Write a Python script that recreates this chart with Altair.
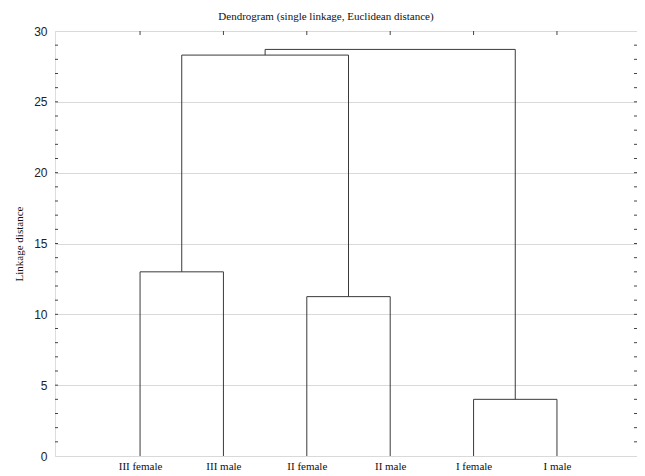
import altair as alt
import pandas as pd

# Data
leaves = ["III female", "III male", "II female", "II male", "I female", "I male"]
# merges: (child a, child b, linkage distance); ids 0-5 are leaves, 6+ are clusters
merge_a = [0, 2, 4, 6, 8]
merge_b = [1, 3, 5, 7, 9]
merge_h = [13.0, 11.25, 4.0, 28.3, 28.7]
y_ticks = [0, 5, 10, 15, 20, 25, 30]
minor_ticks = list(range(1, 30))

W, H = 582, 425

# build node positions
pos = {i: (i + 1.0, 0.0) for i in range(len(leaves))}
segs = []
for k, (a, b, h) in enumerate(zip(merge_a, merge_b, merge_h)):
    xa, ha = pos[a]
    xb, hb = pos[b]
    segs.append({"x": xa, "x2": xa, "y": ha, "y2": h})
    segs.append({"x": xb, "x2": xb, "y": hb, "y2": h})
    segs.append({"x": xa, "x2": xb, "y": h, "y2": h})
    pos[len(leaves) + k] = ((xa + xb) / 2, h)
seg_df = pd.DataFrame(segs)

label_arr = "[" + ",".join("'" + s + "'" for s in leaves) + "]"

xscale = alt.Scale(domain=[-0.02, 6.96], nice=False, zero=False)
yscale = alt.Scale(domain=[0, 30], nice=False)

base_x = alt.X(
    "x:Q", scale=xscale,
    axis=alt.Axis(
        values=[i + 1 for i in range(len(leaves))],
        labelExpr=label_arr + "[datum.value - 1]",
        title=None, grid=False, domain=False, ticks=False,
        labelFont="Liberation Serif", labelFontSize=11, labelColor="#111",
        labelPadding=4,
    ),
)
base_y = alt.Y(
    "y:Q", scale=yscale,
    axis=alt.Axis(
        values=y_ticks, title="Linkage distance", grid=True,
        gridColor="#d9d9d9", gridWidth=1, domain=False, ticks=False,
        labelFont="Liberation Sans", labelFontSize=12, labelColor="#222",
        labelPadding=8, titleFont="Liberation Serif", titleFontSize=11,
        titleFontWeight="normal", titleColor="#111", titlePadding=9,
    ),
)

dendro = alt.Chart(seg_df).mark_rule(color="#3a3a3a", strokeWidth=1).encode(
    x=base_x, x2="x2:Q", y=base_y, y2="y2:Q"
)

minor_df = pd.DataFrame({"v": minor_ticks})
left_ticks = alt.Chart(minor_df).mark_rule(color="#444").encode(
    y=alt.Y("v:Q", scale=yscale), x=alt.value(0), x2=alt.value(3)
)
right_ticks = alt.Chart(minor_df).mark_rule(color="#444").encode(
    y=alt.Y("v:Q", scale=yscale), x=alt.value(W - 3), x2=alt.value(W)
)
top_df = pd.DataFrame({"lx": [i + 1 for i in range(len(leaves))]})
top_ticks = alt.Chart(top_df).mark_rule(color="#444").encode(
    x=alt.X("lx:Q", scale=xscale), y=alt.value(0), y2=alt.value(4)
)

chart = alt.layer(dendro, left_ticks, right_ticks, top_ticks).properties(
    width=W, height=H,
    title=alt.TitleParams(
        "Dendrogram (single linkage, Euclidean distance)",
        font="Liberation Serif", fontSize=11, fontWeight="normal",
        color="#111", anchor="middle", offset=3, dx=-20,
    ),
    autosize=alt.AutoSizeParams(type="none"),
    padding={"left": 47, "top": 23, "right": 0, "bottom": 16},
).configure_view(stroke="#333", strokeWidth=1).configure(background="white")

chart.save("out.html", embed_options={"renderer": "svg", "actions": False})
